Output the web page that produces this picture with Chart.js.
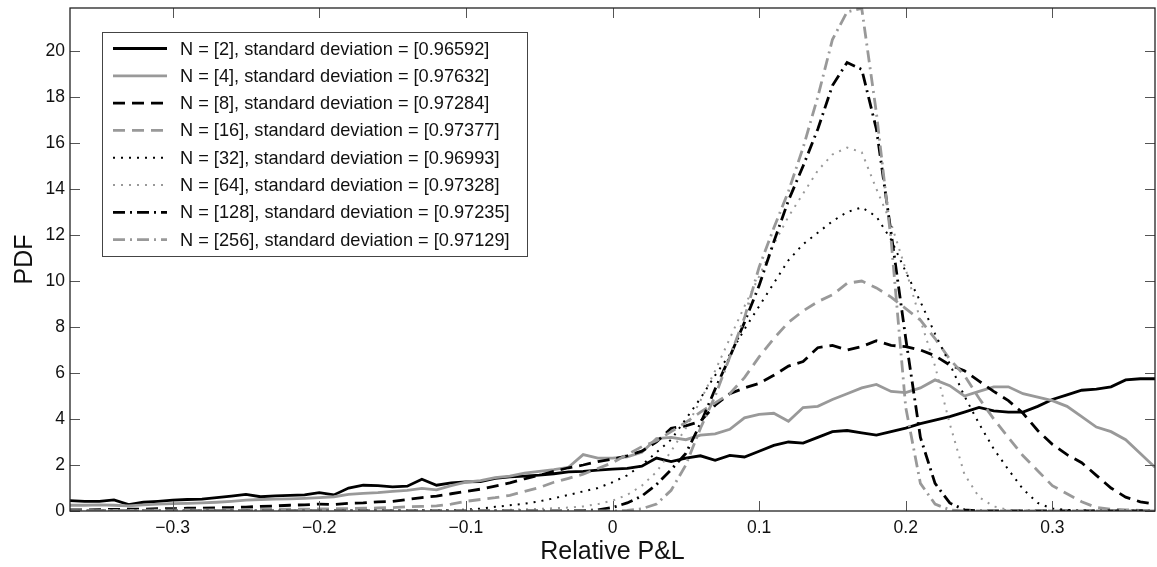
<!DOCTYPE html>
<html>
<head>
<meta charset="utf-8">
<script src="https://cdn.jsdelivr.net/npm/chart.js@4.4.0/dist/chart.umd.min.js"></script>
<style>
  html, body { margin: 0; padding: 0; background: #fff; }
  #wrap { width: 1157px; height: 567px; }
</style>
</head>
<body>
<div id="wrap"><canvas id="pdfChart" width="1157" height="567"></canvas></div>
<script>
// bin centres of the relative P&L histogram
const pnl = [
  -0.37, -0.36, -0.35, -0.34, -0.33, -0.32, -0.31, -0.30, -0.29, -0.28,
  -0.27, -0.26, -0.25, -0.24, -0.23, -0.22, -0.21, -0.20, -0.19, -0.18,
  -0.17, -0.16, -0.15, -0.14, -0.13, -0.12, -0.11, -0.10, -0.09, -0.08,
  -0.07, -0.06, -0.05, -0.04, -0.03, -0.02, -0.01, 0.00, 0.01, 0.02,
  0.03, 0.04, 0.05, 0.06, 0.07, 0.08, 0.09, 0.10, 0.11, 0.12,
  0.13, 0.14, 0.15, 0.16, 0.17, 0.18, 0.19, 0.20, 0.21, 0.22,
  0.23, 0.24, 0.25, 0.26, 0.27, 0.28, 0.29, 0.30, 0.31, 0.32,
  0.33, 0.34, 0.35, 0.36, 0.37
];

const nValues = [2, 4, 8, 16, 32, 64, 128, 256];
const stdDevs = ['0.96592', '0.97632', '0.97284', '0.97377', '0.96993', '0.97328', '0.97235', '0.97129'];

const pdfN2 = [
  0.45, 0.42, 0.42, 0.48, 0.28, 0.38, 0.42, 0.47, 0.50, 0.52,
  0.58, 0.65, 0.72, 0.62, 0.66, 0.68, 0.70, 0.80, 0.70, 1.00,
  1.12, 1.10, 1.05, 1.08, 1.38, 1.12, 1.22, 1.27, 1.28, 1.42,
  1.48, 1.52, 1.56, 1.62, 1.70, 1.72, 1.78, 1.82, 1.85, 1.95,
  2.30, 2.15, 2.30, 2.40, 2.20, 2.42, 2.35, 2.60, 2.85, 3.00,
  2.95, 3.20, 3.45, 3.50, 3.40, 3.30, 3.45, 3.60, 3.80, 3.95,
  4.10, 4.30, 4.50, 4.35, 4.30, 4.30, 4.55, 4.85, 5.05, 5.25,
  5.30, 5.40, 5.70, 5.75, 5.75
];
const pdfN4 = [
  0.25, 0.25, 0.27, 0.25, 0.22, 0.27, 0.30, 0.32, 0.33, 0.35,
  0.38, 0.42, 0.47, 0.50, 0.52, 0.53, 0.55, 0.58, 0.62, 0.72,
  0.77, 0.80, 0.85, 0.90, 0.98, 0.92, 1.10, 1.25, 1.32, 1.45,
  1.52, 1.65, 1.72, 1.80, 1.90, 2.45, 2.30, 2.30, 2.35, 2.55,
  3.15, 3.20, 3.10, 3.30, 3.35, 3.55, 4.05, 4.20, 4.25, 3.90,
  4.50, 4.55, 4.85, 5.10, 5.35, 5.50, 5.20, 5.15, 5.35, 5.70,
  5.45, 5.00, 5.20, 5.40, 5.40, 5.10, 4.95, 4.80, 4.55, 4.10,
  3.65, 3.45, 3.10, 2.50, 1.90
];
const pdfN8 = [
  0.05, 0.05, 0.06, 0.07, 0.08, 0.08, 0.10, 0.10, 0.12, 0.12,
  0.14, 0.15, 0.17, 0.20, 0.22, 0.25, 0.27, 0.30, 0.28, 0.33,
  0.35, 0.40, 0.42, 0.50, 0.58, 0.65, 0.75, 0.85, 0.95, 1.08,
  1.22, 1.40, 1.55, 1.72, 1.88, 2.00, 2.15, 2.25, 2.40, 2.60,
  3.00, 3.60, 3.70, 3.90, 4.60, 5.10, 5.35, 5.55, 5.90, 6.30,
  6.50, 7.10, 7.20, 7.00, 7.15, 7.40, 7.20, 7.15, 7.00, 6.75,
  6.35, 6.10, 5.65, 5.20, 4.80, 4.25, 3.50, 2.90, 2.45, 2.10,
  1.55, 1.00, 0.60, 0.40, 0.30
];
const pdfN16 = [
  0.02, 0.02, 0.02, 0.03, 0.03, 0.03, 0.04, 0.04, 0.05, 0.05,
  0.05, 0.06, 0.06, 0.07, 0.07, 0.08, 0.08, 0.09, 0.10, 0.10,
  0.12, 0.13, 0.15, 0.18, 0.20, 0.22, 0.30, 0.42, 0.50, 0.58,
  0.68, 0.85, 1.02, 1.25, 1.42, 1.60, 1.85, 2.10, 2.45, 2.80,
  3.05, 3.45, 3.85, 4.30, 4.70, 5.10, 5.80, 6.70, 7.50, 8.20,
  8.70, 9.10, 9.40, 9.90, 10.00, 9.70, 9.30, 8.80, 8.30, 7.50,
  6.60, 5.90, 4.90, 4.00, 3.20, 2.40, 1.75, 1.10, 0.75, 0.40,
  0.15, 0.08, 0.05, 0.03, 0.02
];
const pdfN32 = [
  0.01, 0.01, 0.01, 0.01, 0.01, 0.01, 0.01, 0.01, 0.01, 0.01,
  0.01, 0.01, 0.01, 0.01, 0.01, 0.01, 0.01, 0.01, 0.02, 0.02,
  0.02, 0.02, 0.02, 0.02, 0.03, 0.03, 0.04, 0.06, 0.10, 0.18,
  0.25, 0.32, 0.42, 0.55, 0.70, 0.85, 1.00, 1.25, 1.55, 2.00,
  2.55, 3.10, 4.00, 4.90, 5.90, 6.80, 7.90, 8.90, 9.90, 10.90,
  11.60, 12.10, 12.60, 13.00, 13.20, 12.80, 11.80, 10.40, 9.10, 7.70,
  6.40, 5.00, 3.80, 2.70, 1.80, 0.95, 0.35, 0.10, 0.05, 0.02,
  0.01, 0.01, 0.01, 0.01, 0.01
];
const pdfN64 = [
  0, 0, 0, 0, 0, 0, 0, 0, 0, 0,
  0, 0, 0, 0, 0, 0, 0, 0, 0, 0,
  0, 0, 0, 0, 0.01, 0.01, 0.01, 0.02, 0.03, 0.04,
  0.05, 0.07, 0.09, 0.12, 0.15, 0.20, 0.30, 0.45, 0.70, 1.10,
  1.70, 2.60, 3.60, 4.80, 6.10, 7.50, 8.90, 10.20, 11.60, 12.80,
  13.80, 14.80, 15.50, 15.80, 15.60, 14.00, 12.50, 10.50, 8.30, 6.30,
  3.80, 1.60, 0.60, 0.20, 0.05, 0.02, 0.01, 0, 0, 0,
  0, 0, 0, 0, 0
];
const pdfN128 = [
  0, 0, 0, 0, 0, 0, 0, 0, 0, 0,
  0, 0, 0, 0, 0, 0, 0, 0, 0, 0,
  0, 0, 0, 0, 0, 0, 0, 0, 0, 0,
  0, 0, 0, 0, 0.01, 0.02, 0.05, 0.15, 0.35, 0.65,
  1.15, 1.80, 2.50, 3.80, 5.30, 6.70, 8.20, 9.80, 11.70, 13.50,
  15.00, 16.60, 18.50, 19.50, 19.20, 16.60, 12.10, 7.50, 3.20, 1.20,
  0.35, 0.05, 0, 0, 0, 0, 0, 0, 0, 0,
  0, 0, 0, 0, 0
];
const pdfN256 = [
  0, 0, 0, 0, 0, 0, 0, 0, 0, 0,
  0, 0, 0, 0, 0, 0, 0, 0, 0, 0,
  0, 0, 0, 0, 0, 0, 0, 0, 0, 0,
  0, 0, 0, 0, 0, 0, 0, 0, 0.03, 0.10,
  0.30, 0.90, 2.00, 3.60, 5.00, 6.70, 8.40, 10.60, 12.30, 13.90,
  15.80, 18.00, 20.50, 21.70, 21.85, 17.30, 11.80, 4.50, 1.20, 0.30,
  0.05, 0, 0, 0, 0, 0, 0, 0, 0, 0,
  0, 0, 0, 0, 0
];

const xTicks = [-0.3, -0.2, -0.1, 0, 0.1, 0.2, 0.3];
const yTicks = [0, 2, 4, 6, 8, 10, 12, 14, 16, 18, 20];

const allSeries = [pdfN2, pdfN4, pdfN8, pdfN16, pdfN32, pdfN64, pdfN128, pdfN256];

// matlab-ish line styles: solid, dashed, dotted, dash-dot; black then grey
const BLACK = '#000000';
const GREY = '#999999';
const styles = [
  { color: BLACK, dash: [], width: 2.8 },
  { color: GREY, dash: [], width: 2.8 },
  { color: BLACK, dash: [12, 7], width: 2.8 },
  { color: GREY, dash: [12, 7], width: 2.8 },
  { color: BLACK, dash: [2, 6], width: 2 },
  { color: GREY, dash: [2, 6], width: 2 },
  { color: BLACK, dash: [12, 5, 2, 5], width: 2.8 },
  { color: GREY, dash: [12, 5, 2, 5], width: 2.8 }
];

const datasets = allSeries.map((vals, i) => ({
  label: 'N = [' + nValues[i] + '], standard deviation = [' + stdDevs[i] + ']',
  data: pnl.map((x, j) => ({ x: x, y: vals[j] })),
  borderColor: styles[i].color,
  borderDash: styles[i].dash,
  borderWidth: styles[i].width,
  pointRadius: 0,
  tension: 0,
  fill: false,
  order: allSeries.length - i // later series drawn on top
}));

const FONT = '"Liberation Sans", Arial, Helvetica, sans-serif';

// box around the axes with inward tick marks on all four sides
const axesFrame = {
  id: 'axesFrame',
  afterDatasetsDraw(chart) {
    const { ctx, chartArea: a, scales } = chart;
    ctx.save();
    ctx.setLineDash([]);
    ctx.strokeStyle = '#555';
    ctx.lineWidth = 1;
    const tl = 10;
    xTicks.forEach(v => {
      const px = Math.round(scales.x.getPixelForValue(v)) + 0.5;
      ctx.beginPath();
      ctx.moveTo(px, a.bottom); ctx.lineTo(px, a.bottom - tl);
      ctx.moveTo(px, a.top); ctx.lineTo(px, a.top + tl);
      ctx.stroke();
    });
    yTicks.forEach(v => {
      const py = Math.round(scales.y.getPixelForValue(v)) + 0.5;
      ctx.beginPath();
      ctx.moveTo(a.left, py); ctx.lineTo(a.left + tl, py);
      ctx.moveTo(a.right, py); ctx.lineTo(a.right - tl, py);
      ctx.stroke();
    });
    ctx.strokeStyle = '#222';
    ctx.lineWidth = 1.3;
    ctx.strokeRect(a.left, a.top, a.right - a.left, a.bottom - a.top);
    ctx.restore();
  }
};

// legend box in the upper left corner, like matlab's 'NorthWest'
const legendBox = {
  id: 'legendBox',
  afterDraw(chart) {
    const ctx = chart.ctx;
    ctx.save();
    ctx.setLineDash([]);
    ctx.fillStyle = '#fff';
    ctx.fillRect(102.5, 32.5, 425, 224);
    ctx.strokeStyle = '#444';
    ctx.lineWidth = 1;
    ctx.strokeRect(102.5, 32.5, 425, 224);
    chart.data.datasets.forEach((ds, i) => {
      const y = 48.5 + i * 27.3;
      ctx.strokeStyle = ds.borderColor;
      ctx.lineWidth = ds.borderWidth;
      ctx.setLineDash(ds.borderDash);
      ctx.beginPath();
      ctx.moveTo(113, y);
      ctx.lineTo(167, y);
      ctx.stroke();
      ctx.setLineDash([]);
      ctx.fillStyle = '#111';
      ctx.font = '18.2px ' + FONT;
      ctx.textBaseline = 'middle';
      ctx.fillText(ds.label, 180, y + 1);
    });
    ctx.restore();
  }
};

const ctx = document.getElementById('pdfChart').getContext('2d');

new Chart(ctx, {
  type: 'line',
  data: { datasets: datasets },
  options: {
    responsive: false,
    animation: false,
    events: [],
    layout: { padding: { left: 0, right: 2, top: 8, bottom: 0 } },
    plugins: {
      legend: { display: false },
      tooltip: { enabled: false }
    },
    scales: {
      x: {
        type: 'linear',
        min: -0.37,
        max: 0.37,
        afterBuildTicks: axis => { axis.ticks = xTicks.map(v => ({ value: v })); },
        afterFit: axis => {
          axis.height = 56;
          axis.paddingLeft = 0;
          axis.paddingRight = 0;
        },
        grid: { display: false, drawTicks: false },
        border: { display: false },
        ticks: {
          color: '#111',
          padding: 7,
          maxRotation: 0,
          font: { family: FONT, size: 17.5 },
          callback: v => (v === 0 ? '0' : v.toFixed(1).replace('-', '\u2212'))
        },
        title: {
          display: true,
          text: 'Relative P&L',
          color: '#111',
          font: { family: FONT, size: 25 },
          padding: { top: 0, bottom: 0 }
        }
      },
      y: {
        min: 0,
        max: 21.87,
        afterBuildTicks: axis => { axis.ticks = yTicks.map(v => ({ value: v })); },
        afterFit: axis => {
          axis.width = 70;
          axis.paddingTop = 0;
          axis.paddingBottom = 0;
        },
        grid: { display: false, drawTicks: false },
        border: { display: false },
        ticks: {
          color: '#111',
          padding: 5,
          font: { family: FONT, size: 17.5 }
        },
        title: {
          display: true,
          text: 'PDF',
          color: '#111',
          font: { family: FONT, size: 25 },
          padding: { top: 10, bottom: 0 }
        }
      }
    }
  },
  plugins: [axesFrame, legendBox]
});
</script>
</body>
</html>
